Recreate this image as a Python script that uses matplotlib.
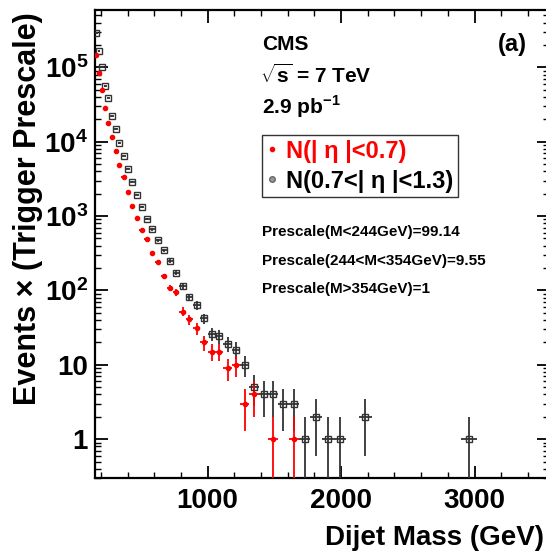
import numpy as np
import matplotlib
matplotlib.use('Agg')
import matplotlib.pyplot as plt
from matplotlib.lines import Line2D
from matplotlib.ticker import MultipleLocator, LogLocator, FixedLocator, FixedFormatter, NullFormatter

plt.rcParams['font.family'] = ['Liberation Sans', 'DejaVu Sans']
plt.rcParams['font.weight'] = 'bold'
plt.rcParams['mathtext.fontset'] = 'custom'
plt.rcParams['mathtext.rm'] = 'Liberation Sans:bold'
plt.rcParams['mathtext.bf'] = 'Liberation Sans:bold'

# dijet mass bin edges (GeV)
bin_edges = [156, 176, 197, 220, 244, 270, 296, 325, 354, 386, 419, 453, 489, 526,
             565, 606, 649, 693, 740, 788, 838, 890, 944, 1000, 1058, 1118, 1181,
             1246, 1313, 1383, 1455, 1530, 1607, 1687, 1770, 1856, 1945, 2037, 2132,
             2231, 2332, 2438, 2546, 2659, 2775, 2895, 3019]

# events x prescale, |eta| < 0.7
central = [1.47e5, 8.3e4, 4.9e4, 2.8e4, 1.8e4, 1.15e4, 7400, 4800, 3300, 2100, 1380,
           930, 640, 484, 317, 240, 154, 109, 95, 52, 41, 31, 20, 15, 15, 9, 10, 3, 4,
           0, 1, 0, 1, 0, 0, 0, 0, 0, 0, 0, 0, 0, 0, 0, 0, 0]

# events x prescale, 0.7 < |eta| < 1.3
forward = [2.9e5, 1.65e5, 1.02e5, 5.6e4, 3.9e4, 2.2e4, 1.5e4, 9500, 6500, 4300, 2900,
           1940, 1310, 925, 660, 470, 345, 247, 172, 116, 81, 63, 42, 26, 24, 19, 16,
           10, 5, 4, 4, 3, 3, 1, 2, 1, 1, 0, 2, 0, 0, 0, 0, 0, 0, 1]

prescale_cuts = [244, 354]
prescales = [99.14, 9.55, 1.0]

edges = np.array(bin_edges, dtype=float)
centers = 0.5 * (edges[:-1] + edges[1:])
half_w = 0.5 * (edges[1:] - edges[:-1])
ps = np.select([edges[:-1] < prescale_cuts[0], edges[:-1] < prescale_cuts[1]],
               prescales[:2], default=prescales[2])

fig = plt.figure(figsize=(5.46, 5.57), dpi=100)
ax = fig.add_axes([95 / 546, 1 - 478 / 557, (549 - 95) / 546, (478 - 10) / 557])


def draw(vals, color, ecolor, marker, ms, mfc):
    v = np.array(vals, dtype=float)
    keep = v > 0
    err = np.sqrt(v * ps)
    ax.errorbar(centers[keep], v[keep], yerr=err[keep], xerr=half_w[keep],
                fmt=marker, ms=ms, mfc=mfc, mec=color, mew=1.0,
                ecolor=ecolor, elinewidth=1.3, capsize=0, zorder=3)


draw(forward, '#333333', '#333333', 's', 3.7, 'none')
draw(central, 'red', 'red', 'o', 3.0, 'red')

ax.set_yscale('log')
ax.set_xlim(156, 3558)
ax.set_ylim(0.3, 5.9e5)

ax.xaxis.set_major_locator(MultipleLocator(1000))
ax.xaxis.set_minor_locator(MultipleLocator(200))
ax.yaxis.set_major_locator(FixedLocator([1, 10, 100, 1e3, 1e4, 1e5]))
ax.yaxis.set_major_formatter(FixedFormatter(['1', '10', r'$\mathrm{10^{2}}$', r'$\mathrm{10^{3}}$',
                                             r'$\mathrm{10^{4}}$', r'$\mathrm{10^{5}}$']))
ax.yaxis.set_minor_locator(LogLocator(base=10, subs=np.arange(2, 10), numticks=20))
ax.yaxis.set_minor_formatter(NullFormatter())

ax.tick_params(which='both', direction='in', top=True, right=True, labelsize=20)
ax.tick_params(which='major', length=9, width=1.3)
ax.tick_params(which='minor', length=4.5, width=1.0)
ax.tick_params(axis='x', pad=7)
ax.tick_params(axis='y', pad=5)
for s in ax.spines.values():
    s.set_linewidth(1.6)

fig.text(28 / 546, 1 - 12 / 557, u'Events \u00d7 (Trigger Prescale)', rotation=90,
         ha='center', va='top', fontsize=22, fontweight='bold')
fig.text(544 / 546, 1 - 538 / 557, 'Dijet Mass (GeV)', ha='right', va='center',
         fontsize=20, fontweight='bold')

tx = 262 / 546
fig.text(tx, 1 - 45 / 557, 'CMS', ha='left', va='center', fontsize=15)
fig.text(tx - 2 / 546, 1 - 75 / 557, r'$\sqrt{\mathrm{s}}$ = 7 TeV', ha='left', va='center', fontsize=15)
fig.text(tx, 1 - 107 / 557, r'2.9 pb$^{\mathrm{-1}}$', ha='left', va='center', fontsize=15)
fig.text(527 / 546, 1 - 45 / 557, '(a)', ha='right', va='center', fontsize=17)

fig.text(tx, 1 - 232 / 557, 'Prescale(M<244GeV)=99.14', ha='left', va='center', fontsize=11)
fig.text(tx, 1 - 261 / 557, 'Prescale(244<M<354GeV)=9.55', ha='left', va='center', fontsize=11)
fig.text(tx, 1 - 289 / 557, 'Prescale(M>354GeV)=1', ha='left', va='center', fontsize=11)

handles = [Line2D([], [], ls='none', marker='o', ms=3, color='red'),
           Line2D([], [], ls='none', marker='o', ms=4, mfc='#999999', mec='#666666')]
leg = ax.legend(handles, [u'N(| \u03b7 |<0.7)', u'N(0.7<| \u03b7 |<1.3)'],
                loc='upper left', bbox_to_anchor=(0.368, 0.733), fontsize=17,
                frameon=True, fancybox=False, edgecolor='#333333', framealpha=1,
                handlelength=0.4, handletextpad=0.4, borderpad=0.2,
                labelspacing=0.3, borderaxespad=0)
leg.get_frame().set_linewidth(1.0)
leg.get_texts()[0].set_color('red')

fig.savefig('out.png', dpi=100)
